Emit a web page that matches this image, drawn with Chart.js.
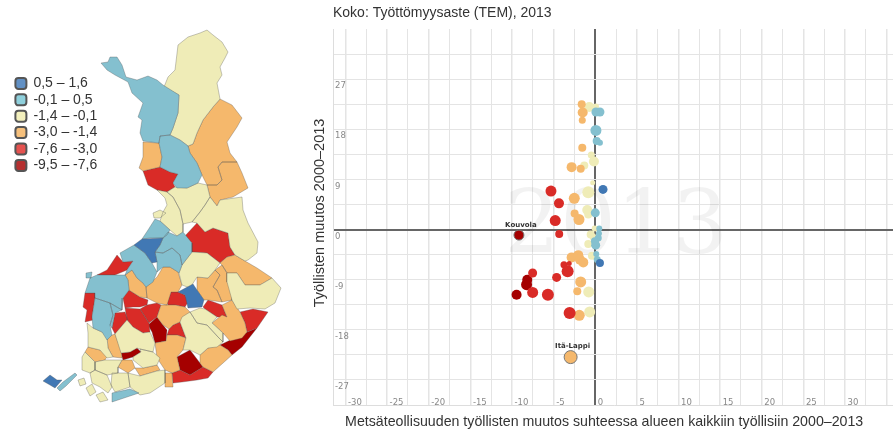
<!DOCTYPE html>
<html>
<head>
<meta charset="utf-8">
<title>Työttömyysaste 2013</title>
<script src="https://cdn.jsdelivr.net/npm/chart.js@4/dist/chart.umd.min.js"></script>
<style>
  html, body { margin: 0; padding: 0; background: #fff; overflow: hidden; width: 893px; height: 432px; }
  canvas { position: absolute; filter: blur(0.4px); }
  #map { left: 0; top: 0; }
  #legend { left: 13px; top: 74px; }
  #scatter { left: 305px; top: 0; }
</style>
</head>
<body>
<canvas id="map" width="300" height="432"></canvas>
<canvas id="legend" width="120" height="110"></canvas>
<canvas id="scatter" width="590" height="432"></canvas>
<script>
var chartTitle = "Koko: Työttömyysaste (TEM), 2013";
var xTitle = "Metsäteollisuuden työllisten muutos suhteessa alueen kaikkiin työllisiin 2000–2013\u00a0\u00a0\u00a0\u00a0\u00a0";
var yTitle = "\u00a0\u00a0Työllisten muutos 2000–2013";
var yearMark = "2013";

var classLabels = ["0,5 – 1,6", "-0,1 – 0,5", "-1,4 – -0,1", "-3,0 – -1,4", "-7,6 – -3,0", "-9,5 – -7,6"];
var classColors = ["#4178b4", "#84c0cf", "#efecb7", "#f5b86c", "#d92b27", "#a50000"];
var legendColors = ["#6190c4", "#8fd0dc", "#f3f0bd", "#f6c07c", "#e5524f", "#b53030"];

var xTicks = [-30, -27.5, -25, -22.5, -20, -17.5, -15, -12.5, -10, -7.5, -5, -2.5, 0, 2.5, 5, 7.5, 10, 12.5, 15, 17.5, 20, 22.5, 25, 27.5, 30, 32.5, 35];
var yTicks = [-27, -22.5, -18, -13.5, -9, -4.5, 0, 4.5, 9, 13.5, 18, 22.5, 27, 31.5];

// scatter values, one group of arrays per class
var darkBlueX = [0.93, 0.56];
var darkBlueY = [7.2, -6.0];
var darkBlueR = [4.5, 4];

var lightBlueX = [0.08, 0.56, 0.08, 0.17, 0.56, 0, 0.48, 0.44, 0.36, -0.04, 0.05, 0.12, 0.24];
var lightBlueY = [21.1, 21.1, 17.8, 15.9, 15.6, 3.0, 0.2, -0.7, -1.5, -2.1, -2.8, -4.4, -5.4];
var lightBlueR = [4.5, 4.5, 5.5, 4, 3, 4.5, 3, 3, 3.5, 4, 4.5, 3, 3.5];

var creamX = [-0.72, 0.08, -0.48, -0.16, -1.32, -0.31, -0.84, -0.96, -0.84, -0.07, -0.55, -0.24, -0.84, -0.40, -0.79, -0.67];
var creamY = [22.0, 22.1, 13.4, 12.2, 11.5, 8.4, 6.7, 3.5, 2.7, 0.2, -0.9, -1.4, -2.6, -4.7, -11.2, -14.8];
var creamR = [5, 3, 3.5, 5, 4, 2.5, 6, 5, 4, 3, 4, 3.5, 4, 4, 5.5, 5.5];

var orangeX = [-1.63, -1.51, -1.56, -1.56, -2.84, -1.75, -2.52, -2.48, -1.96, -2.84, -2.04, -1.84, -1.44, -1.75, -2.16, -1.92, -2.96];
var orangeY = [22.5, 21.0, 19.6, 14.7, 11.2, 10.9, 5.6, 2.9, 1.8, -5.0, -4.6, -5.4, -5.9, -9.4, -11.1, -15.4, -22.9];
var orangeR = [4, 5, 3.5, 4, 5, 4, 5.5, 4, 5.5, 5, 5, 5, 5, 5.5, 4, 5.5, 6.5];

var redX = [-5.32, -4.36, -4.81, -4.33, -7.52, -3.76, -3.13, -3.32, -4.64, -7.52, -5.69, -3.08];
var redY = [6.9, 4.7, 1.6, -0.8, -7.8, -6.3, -6.1, -7.5, -8.6, -11.3, -11.7, -15.0];
var redR = [5.5, 5, 5.5, 4, 4.5, 3.5, 2.5, 6, 4.5, 5.5, 6, 6];

var darkRedX = [-9.17, -8.17, -8.25, -9.45];
var darkRedY = [-1.0, -9.0, -9.9, -11.7];
var darkRedR = [5, 5, 5.5, 5];

var xGroups = [darkBlueX, lightBlueX, creamX, orangeX, redX, darkRedX];
var yGroups = [darkBlueY, lightBlueY, creamY, orangeY, redY, darkRedY];
var rGroups = [darkBlueR, lightBlueR, creamR, orangeR, redR, darkRedR];

// named points: class index and position inside that class
var pointNames = ["Kouvola", "Itä-Lappi"];
var pointNameClass = [5, 3];
var pointNameIndex = [0, 16];

// map outlines per class, x,y pairs in map units
var darkBlueAreas = [
  [134,245, 142,239, 163,238, 160,245, 155,252, 157,262, 152,263, 145,253],
  [178,292, 193,284, 197,290, 204,300, 202,307, 188,308, 185,295],
  [43,381, 50,375, 57,380, 62,380, 55,388, 50,385]
];
var lightBlueAreas = [
  [101,63, 108,62, 110,57, 117,57, 122,65, 126,77, 137,80, 148,76, 157,80, 163,85, 179,95, 178,113, 173,128, 170,135, 160,136, 159,143, 143,141, 140,133, 142,120, 138,117, 143,103, 132,93, 128,82, 115,75, 107,70],
  [160,136, 170,135, 180,140, 188,146, 190,153, 197,163, 202,175, 198,183, 187,188, 177,188, 173,183, 178,174, 170,172, 160,167, 162,157, 159,143],
  [155,219, 160,221, 170,230, 167,235, 163,238, 150,238, 142,239, 148,230],
  [163,238, 168,232, 177,236, 183,232, 192,243, 192,252, 182,265, 180,255, 172,248, 163,253, 155,252, 160,245],
  [172,248, 180,255, 182,265, 179,273, 178,272, 170,267, 163,267, 157,272, 157,262, 155,252, 163,253],
  [120,253, 134,245, 145,253, 152,263, 157,272, 153,282, 146,287, 143,283, 137,278, 132,270, 125,275, 127,270, 133,261, 123,262],
  [97,275, 113,275, 125,275, 128,280, 129,290, 123,298, 122,310, 110,303, 95,298, 95,293, 85,293, 90,278],
  [95,298, 110,303, 113,315, 110,325, 112,335, 107,340, 102,332, 93,328, 92,317],
  [110,303, 122,310, 115,313, 112,328, 110,325, 113,315],
  [112,393, 130,389, 139,393, 127,397, 112,402],
  [57,388, 63,382, 75,373, 77,375, 66,386, 60,391],
  [86,273, 92,272, 91,278, 86,278]
];
var creamAreas = [
  [207,30, 213,35, 222,42, 228,52, 225,58, 220,67, 222,75, 217,83, 220,99, 213,107, 203,120, 197,133, 193,144, 188,146, 180,140, 170,135, 173,128, 178,113, 179,95, 164,87, 168,77, 175,70, 178,45, 188,37, 200,33],
  [157,190, 167,192, 173,197, 180,210, 183,224, 183,232, 177,236, 170,230, 160,221, 163,212, 167,205, 165,198],
  [175,187, 187,188, 198,183, 207,185, 210,197, 205,205, 200,212, 192,222, 183,224, 180,210, 173,197, 167,192],
  [217,206, 220,200, 242,197, 243,210, 248,223, 258,242, 257,253, 248,260, 245,261, 235,255, 230,247, 228,233, 213,228, 205,232, 197,223, 192,222, 200,212, 205,205, 210,197],
  [192,252, 207,253, 220,263, 215,270, 208,278, 197,277, 190,288, 182,285, 179,273, 182,265],
  [227,273, 237,273, 245,285, 260,285, 272,278, 281,288, 275,303, 265,309, 250,308, 237,309, 232,300, 227,282],
  [182,317, 190,312, 197,323, 207,325, 218,337, 223,342, 217,347, 208,348, 200,355, 190,350, 183,350, 186,338, 180,322],
  [190,312, 200,308, 205,309, 217,317, 212,323, 223,333, 223,342, 218,337, 207,325, 197,323],
  [115,334, 127,320, 133,327, 143,333, 150,332, 155,343, 153,352, 140,349, 137,348, 130,352, 121,353],
  [87,323, 93,328, 102,332, 107,337, 108,348, 113,357, 107,358, 100,350, 88,347, 88,333],
  [140,349, 153,352, 160,358, 157,365, 143,368, 133,360, 133,357, 141,352],
  [128,373, 140,376, 157,371, 165,370, 165,383, 150,393, 140,395, 130,387],
  [82,357, 85,352, 95,362, 95,370, 90,373, 82,370],
  [95,362, 105,360, 122,360, 118,367, 118,373, 107,375, 95,370],
  [90,373, 95,370, 107,375, 112,387, 108,393, 100,387, 92,383],
  [112,373, 118,373, 128,373, 130,387, 115,392, 111,385],
  [78,380, 84,378, 86,384, 80,386],
  [86,388, 92,384, 96,392, 90,396],
  [96,395, 103,392, 108,400, 100,402],
  [153,213, 160,210, 166,213, 160,218, 154,218]
];
var orangeAreas = [
  [220,99, 232,105, 242,118, 237,127, 227,142, 230,153, 237,162, 222,162, 218,167, 222,180, 217,185, 207,185, 202,175, 197,163, 190,153, 188,146, 193,144, 197,133, 203,120, 213,107],
  [237,162, 242,173, 248,188, 233,197, 220,200, 217,206, 210,197, 207,185, 217,185, 222,180, 218,167, 222,162],
  [143,142, 159,143, 162,157, 160,167, 143,171, 139,168, 143,157],
  [220,263, 227,257, 235,255, 245,261, 257,268, 272,278, 260,285, 245,285, 237,273, 227,273, 222,265],
  [215,270, 222,265, 227,273, 227,282, 232,290, 232,300, 222,302, 217,290, 213,287, 220,275],
  [208,278, 215,270, 220,275, 213,287, 217,290, 222,302, 208,300, 204,300, 197,290, 197,277],
  [146,287, 157,277, 163,267, 170,267, 178,272, 182,285, 178,292, 171,292, 167,305, 157,303, 147,298],
  [125,275, 132,270, 137,278, 143,283, 146,287, 147,298, 140,297, 129,290, 128,280],
  [161,305, 168,305, 175,305, 185,307, 190,312, 180,322, 173,325, 169,329, 163,325, 157,317],
  [212,323, 222,315, 227,317, 222,305, 232,300, 240,312, 245,323, 247,332, 242,338, 230,341, 223,333],
  [200,355, 208,348, 220,345, 228,350, 232,355, 213,372, 203,367, 200,363],
  [166,341, 167,335, 177,335, 186,338, 183,350, 177,357, 180,370, 172,373, 165,370, 157,358, 155,343],
  [107,337, 115,334, 121,350, 122,358, 113,357, 108,348],
  [85,352, 88,347, 100,350, 108,355, 105,360, 95,362],
  [122,360, 132,360, 135,368, 128,373, 118,367],
  [135,368, 143,368, 157,365, 160,370, 140,376],
  [165,373, 172,373, 173,387, 165,387]
];
var redAreas = [
  [143,171, 160,167, 170,172, 178,174, 173,183, 175,187, 167,192, 157,190, 148,185],
  [184,237, 197,223, 205,232, 213,228, 228,233, 230,247, 235,255, 227,257, 220,263, 207,253, 192,252, 192,243],
  [107,270, 117,255, 123,262, 133,261, 127,270, 115,275, 97,275],
  [85,293, 95,293, 95,298, 92,317, 93,320, 85,322, 87,310, 83,307],
  [115,313, 125,312, 128,320, 127,320, 115,334, 112,328],
  [123,298, 129,290, 140,297, 148,300, 147,305, 140,307, 133,307, 125,308],
  [147,305, 157,303, 161,305, 157,317, 149,323, 140,309],
  [125,308, 140,309, 149,323, 150,332, 143,333, 133,327, 127,320],
  [167,303, 171,292, 178,292, 185,295, 188,302, 185,307, 175,305, 168,305],
  [173,325, 180,322, 186,338, 177,335, 167,335, 169,329],
  [203,307, 208,300, 222,305, 227,317, 217,317, 205,309],
  [240,312, 253,309, 268,312, 257,328, 247,332, 245,323],
  [172,373, 180,370, 190,375, 203,367, 213,372, 208,378, 197,380, 182,382, 173,383]
];
var darkRedAreas = [
  [157,317, 163,325, 167,330, 166,341, 155,343, 152,332, 148,325],
  [220,345, 245,333, 257,328, 242,347, 232,355, 228,350],
  [177,357, 190,350, 200,363, 203,367, 190,375, 180,370],
  [121,353, 130,352, 137,348, 141,352, 133,357, 123,360]
];
var areaGroups = [darkBlueAreas, lightBlueAreas, creamAreas, orangeAreas, redAreas, darkRedAreas];

Chart.defaults.font.family = "'Liberation Sans', Arial, sans-serif";
Chart.defaults.animation = false;
Chart.defaults.responsive = false;
Chart.defaults.plugins.tooltip.enabled = false;

function outlinePoints(areas) {
  let points = [];
  areas.forEach((area) => {
    for (let i = 0; i < area.length; i += 2) {
      points.push({ x: area[i], y: area[i + 1] });
    }
    points.push({ x: area[0], y: area[1] });
    points.push({ x: null, y: null });
  });
  return points;
}

var mapChart = new Chart("map", {
  type: "scatter",
  data: {
    datasets: areaGroups.map((areas, i) => ({
      data: outlinePoints(areas),
      showLine: true,
      spanGaps: false,
      fill: "shape",
      pointRadius: 0,
      tension: 0,
      borderWidth: 0.8,
      borderColor: "rgba(80,80,80,0.4)",
      backgroundColor: classColors[i],
    })),
  },
  options: {
    plugins: { legend: { display: false } },
    scales: {
      x: { display: false, min: 0, max: 300 },
      y: { display: false, min: 0, max: 432, reverse: true },
    },
  },
});

var legendChart = new Chart("legend", {
  type: "bar",
  data: {
    datasets: classLabels.map((label, i) => ({
      label: label,
      data: [],
      backgroundColor: legendColors[i],
      borderColor: "#555",
      borderWidth: 2,
    })),
  },
  options: {
    scales: { x: { display: false }, y: { display: false } },
    plugins: {
      legend: {
        position: "left",
        align: "start",
        maxWidth: 120,
        labels: {
          boxWidth: 11,
          boxHeight: 11,
          padding: 2.4,
          color: "#333",
          useBorderRadius: true,
          borderRadius: 3,
          font: { size: 14 },
        },
      },
    },
  },
});

// big pale year behind the points
var yearMarkPlugin = {
  id: "yearMark",
  beforeDatasetsDraw(chart) {
    let ctx = chart.ctx;
    ctx.save();
    ctx.font = "88px 'DejaVu Serif'";
    ctx.fillStyle = "rgba(0,0,0,0.05)";
    ctx.textAlign = "center";
    ctx.textBaseline = "middle";
    ctx.fillText(yearMark, chart.scales.x.getPixelForValue(2.5), chart.scales.y.getPixelForValue(-0.1));
    ctx.restore();
  },
};

// names above the highlighted points
var pointNamePlugin = {
  id: "pointNames",
  afterDatasetsDraw(chart) {
    let ctx = chart.ctx;
    ctx.save();
    ctx.font = "bold 7px 'DejaVu Sans'";
    ctx.fillStyle = "#333";
    ctx.textAlign = "center";
    pointNames.forEach((name, i) => {
      let point = chart.getDatasetMeta(pointNameClass[i]).data[pointNameIndex[i]];
      ctx.fillText(name, point.x + 2, point.y - 3 - point.options.radius);
    });
    ctx.restore();
  },
};

function isNamed(classIndex, pointIndex) {
  return pointNames.some((n, i) => pointNameClass[i] === classIndex && pointNameIndex[i] === pointIndex);
}

function tickGridColor(context) {
  return context.tick.value === 0 ? "#666" : "#e4e4e4";
}

function xGridWidth(context) {
  let value = context.tick.value;
  if (value === 0) return 2;
  return value % 5 === 0 ? 1.5 : 1;
}

function yGridWidth(context) {
  return context.tick.value === 0 ? 2 : 1;
}

var scatterChart = new Chart("scatter", {
  type: "bubble",
  data: {
    datasets: xGroups.map((xs, c) => ({
      label: classLabels[c],
      data: xs.map((x, i) => ({ x: x, y: yGroups[c][i], r: rGroups[c][i] })),
      backgroundColor: classColors[c],
      borderColor: (context) => (isNamed(c, context.dataIndex) ? "#777" : classColors[c]),
      borderWidth: (context) => (isNamed(c, context.dataIndex) ? 1 : 0),
      order: c === 2 ? 6 : c === 3 ? 5 : c,
    })),
  },
  options: {
    clip: false,
    layout: { padding: 0, autoPadding: false },
    plugins: {
      legend: { display: false },
      title: {
        display: true,
        text: chartTitle,
        align: "start",
        fullSize: false,
        color: "#333",
        font: { size: 14, weight: "normal" },
        padding: { top: 5, bottom: 7.2 },
      },
    },
    scales: {
      x: {
        type: "linear",
        position: "bottom",
        min: -31.5,
        max: 36,
        afterBuildTicks(scale) {
          scale.ticks = xTicks.map((v) => ({ value: v }));
        },
        afterFit(scale) {
          scale.height = 27;
        },
        border: { color: "#ddd" },
        grid: { color: tickGridColor, lineWidth: xGridWidth, drawTicks: false },
        title: {
          display: true,
          text: xTitle,
          color: "#333",
          font: { size: 14.2 },
          padding: { top: 0, bottom: 1 },
        },
        ticks: {
          mirror: true,
          autoSkip: false,
          maxRotation: 0,
          align: "start",
          labelOffset: 2.5,
          padding: -2.7,
          color: "#888",
          font: { family: "'DejaVu Sans'", size: 8.5 },
          callback: (value) => (value % 5 === 0 && value < 35 ? value : ""),
        },
      },
      y: {
        type: "linear",
        position: "left",
        min: -31.5,
        max: 36,
        afterBuildTicks(scale) {
          scale.ticks = yTicks.map((v) => ({ value: v }));
        },
        afterFit(scale) {
          scale.width = 28;
        },
        border: { color: "#ddd" },
        grid: { color: tickGridColor, lineWidth: yGridWidth, drawTicks: false },
        title: {
          display: true,
          text: yTitle,
          color: "#333",
          font: { size: 14.5 },
          padding: { top: 6, bottom: 0 },
        },
        ticks: {
          mirror: true,
          autoSkip: false,
          labelOffset: 7,
          padding: 2,
          color: "#888",
          font: { family: "'DejaVu Sans'", size: 8.5 },
          callback: (value) => (value % 9 === 0 && Math.abs(value) < 36 ? value : ""),
        },
      },
    },
  },
  plugins: [yearMarkPlugin, pointNamePlugin],
});
</script>
</body>
</html>
